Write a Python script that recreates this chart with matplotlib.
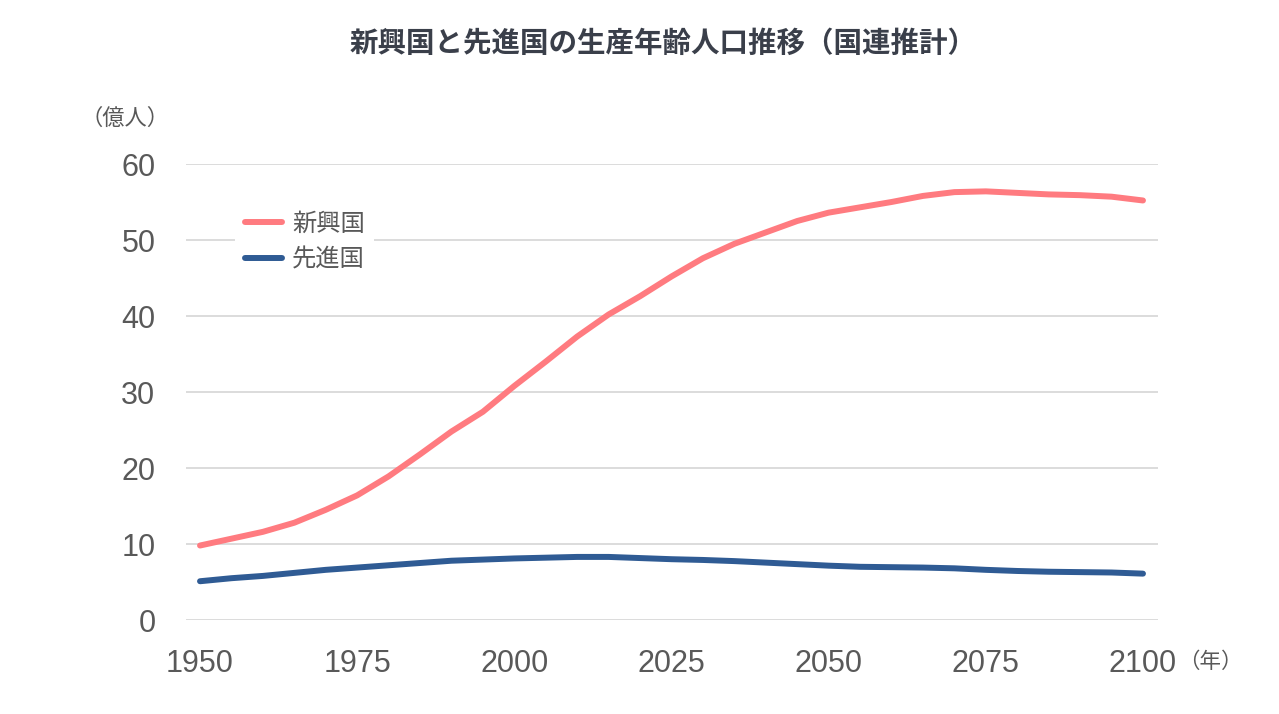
import matplotlib
matplotlib.use("Agg")
import matplotlib.pyplot as plt

# 年（5年刻み）
years = [1950, 1955, 1960, 1965, 1970, 1975, 1980, 1985, 1990, 1995, 2000,
         2005, 2010, 2015, 2020, 2025, 2030, 2035, 2040, 2045, 2050,
         2055, 2060, 2065, 2070, 2075, 2080, 2085, 2090, 2095, 2100]

# 新興国の生産年齢人口（億人）
emerging = [9.8, 10.7, 11.6, 12.8, 14.5, 16.4, 18.9, 21.8, 24.8, 27.4, 30.8,
            34.0, 37.3, 40.2, 42.6, 45.2, 47.6, 49.5, 51.0, 52.5, 53.6,
            54.3, 55.0, 55.8, 56.3, 56.4, 56.2, 56.0, 55.9, 55.7, 55.2]

# 先進国の生産年齢人口（億人）
advanced = [5.1, 5.5, 5.8, 6.2, 6.6, 6.9, 7.2, 7.5, 7.8, 7.95, 8.1,
            8.2, 8.3, 8.3, 8.15, 8.0, 7.9, 7.75, 7.55, 7.35, 7.15,
            7.0, 6.95, 6.9, 6.8, 6.6, 6.45, 6.35, 6.3, 6.25, 6.1]

x_ticks = [1950, 1975, 2000, 2025, 2050, 2075, 2100]
y_ticks = [0, 10, 20, 30, 40, 50, 60]

plt.rcParams['font.family'] = ['Liberation Sans', 'Noto Sans CJK JP']

fig = plt.figure(figsize=(12.79, 7.14), dpi=100)
ax = fig.add_axes([186 / 1279, 1 - 620 / 714, 972 / 1279, 456 / 714])

ax.plot(years, emerging, color="#ff7b80", lw=4.3, solid_capstyle="round",
        label="新興国", zorder=3)
ax.plot(years, advanced, color="#2f5b94", lw=4.3, solid_capstyle="round",
        label="先進国", zorder=3)

ax.set_xlim(1947.77, 2102.39)
ax.set_ylim(0, 60)
ax.set_xticks(x_ticks)
ax.set_yticks(y_ticks)
ax.tick_params(length=0, labelsize=22, colors="#595959")
ax.tick_params(axis="y", pad=22)
ax.tick_params(axis="x", pad=21)
ax.grid(axis="y", color="#d9d9d9", lw=1.3)
ax.set_axisbelow(True)
for s in ax.spines.values():
    s.set_visible(False)

leg = ax.legend(loc="upper left",
                bbox_to_anchor=((235 - 186) / 972, 1 - (203 - 164) / 456),
                frameon=True, fontsize=17.5, handlelength=1.52, handletextpad=0.42,
                labelspacing=0.55, borderpad=0.4, borderaxespad=0)
leg.get_frame().set_facecolor("white")
leg.get_frame().set_edgecolor("none")
leg.get_frame().set_alpha(1)
for t in leg.get_texts():
    t.set_color("#595959")

fig.text(663 / 1279, 1 - 44 / 714, "新興国と先進国の生産年齢人口推移（国連推計）",
         ha="center", va="center", fontsize=20.5, fontweight="bold", color="#3a3f4a")
fig.text(125 / 1279, 1 - 119 / 714, "（億人）", ha="center", va="center",
         fontsize=16, color="#595959")
fig.text(1210 / 1279, 1 - 662 / 714, "（年）", ha="center", va="center",
         fontsize=15.5, color="#595959")

fig.savefig("out.png", dpi=100)
